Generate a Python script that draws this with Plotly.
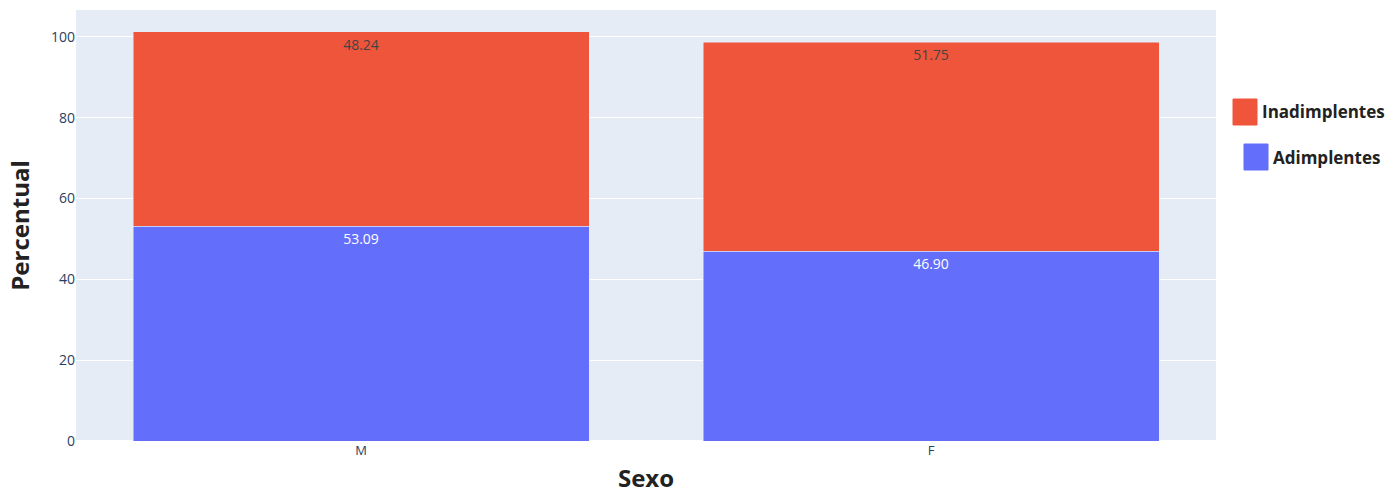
import plotly.graph_objects as go

sexo = ["M", "F"]
adimplentes = [53.09, 46.90]
inadimplentes = [48.24, 51.75]

series = [
    ("Adimplentes", adimplentes, "#636EFA"),
    ("Inadimplentes", inadimplentes, "#EF553B"),
]

fig = go.Figure()
for name, vals, color in series:
    fig.add_trace(go.Bar(
        x=sexo, y=vals, name=name, marker_color=color,
        texttemplate="%{y:.2f}", textposition="inside",
        insidetextanchor="end", textfont=dict(size=14),
        showlegend=False,
    ))

fig.update_layout(
    barmode="stack",
    width=1398, height=494,
    margin=dict(l=76, r=182, t=10, b=53),
    template="plotly",
    font=dict(family="Open Sans, sans-serif"),
    xaxis=dict(title=dict(text="<b>Sexo</b>", font=dict(size=24, color="#222"), standoff=16),
               tickfont=dict(size=13), automargin=False),
    yaxis=dict(title=dict(text="<b>Percentual</b>", font=dict(size=24, color="#222"), standoff=14),
               tickfont=dict(size=14), automargin=False),
)

# Legend drawn with large swatches
legend_items = [
    ("Inadimplentes", "#EF553B", 1233, 112),
    ("Adimplentes", "#636EFA", 1244, 157),
]
for label, color, x0, yc in legend_items:
    fig.add_shape(type="rect", xref="paper", yref="paper",
                  x0=(x0 - 76) / 1140, x1=(x0 + 24 - 76) / 1140,
                  y0=(441 - (yc + 13)) / 431, y1=(441 - (yc - 13)) / 431,
                  fillcolor=color, line=dict(color=color, width=1))
    fig.add_annotation(xref="paper", yref="paper",
                       x=(x0 + 27 - 76) / 1140, y=(441 - yc) / 431,
                       text=f"<b>{label}</b>", showarrow=False,
                       xanchor="left", yanchor="middle",
                       font=dict(size=17, color="#222"))

fig.write_html("out.html")
